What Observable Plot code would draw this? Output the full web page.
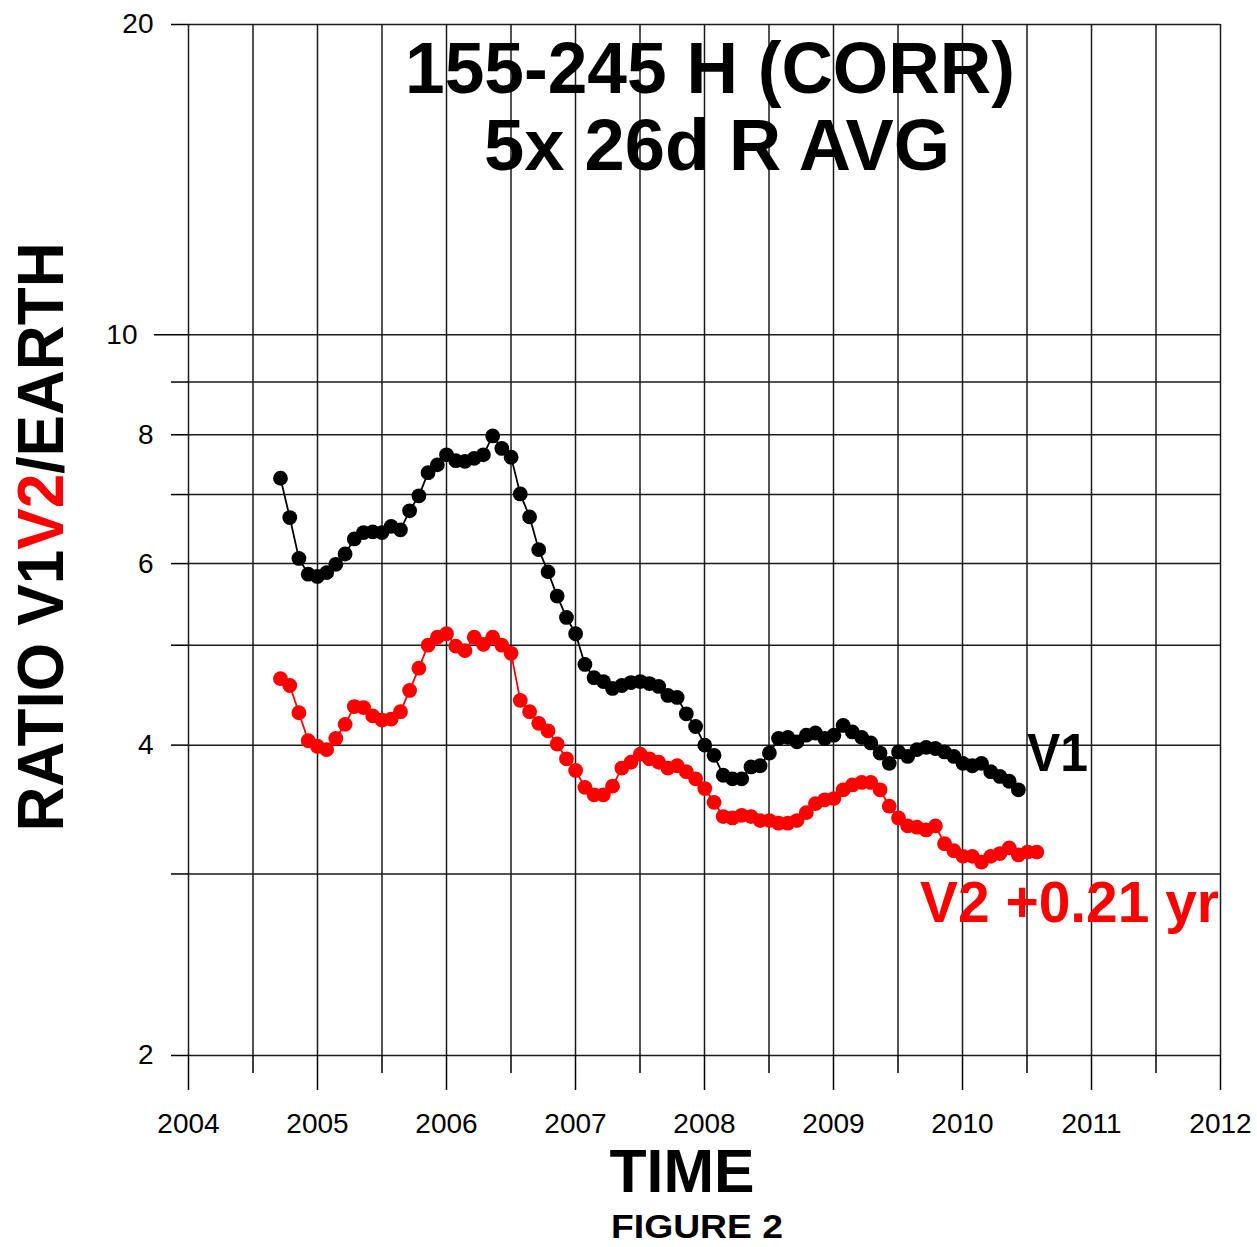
<!DOCTYPE html>
<html><head><meta charset="utf-8">
<script src="https://cdn.jsdelivr.net/npm/d3@7"></script>
<script src="https://cdn.jsdelivr.net/npm/@observablehq/plot@0.6"></script>
<style>body{margin:0;background:#fff} svg{display:block}</style>
</head><body><div id="chart"></div>
<script>
// 26-day sample times (decimal years)
const dates = [2004.713,2004.785,2004.856,2004.928,2004.999,2005.071,2005.142,2005.214,2005.285,2005.357,
2005.428,2005.500,2005.571,2005.643,2005.714,2005.786,2005.857,2005.929,2006.000,2006.072,
2006.143,2006.215,2006.286,2006.358,2006.429,2006.501,2006.572,2006.644,2006.715,2006.787,
2006.858,2006.930,2007.001,2007.073,2007.144,2007.216,2007.287,2007.359,2007.430,2007.502,
2007.573,2007.645,2007.716,2007.788,2007.859,2007.931,2008.002,2008.074,2008.145,2008.217,
2008.288,2008.360,2008.431,2008.503,2008.574,2008.646,2008.717,2008.789,2008.860,2008.932,
2009.003,2009.075,2009.146,2009.218,2009.289,2009.361,2009.432,2009.504,2009.575,2009.647,
2009.718,2009.790,2009.861,2009.933,2010.004,2010.076,2010.147,2010.219,2010.290,2010.362,
2010.433,2010.505,2010.576];

// V1 ratio values
const v1 = [7.26,6.65,6.07,5.86,5.83,5.88,5.99,6.13,6.34,6.43,
6.44,6.43,6.52,6.47,6.75,6.98,7.35,7.48,7.65,7.55,
7.54,7.59,7.65,7.98,7.76,7.61,7.01,6.66,6.19,5.89,
5.58,5.32,5.13,4.79,4.65,4.61,4.54,4.57,4.60,4.61,
4.59,4.56,4.47,4.45,4.29,4.17,4.00,3.91,3.74,3.71,
3.71,3.81,3.82,3.93,4.06,4.07,4.03,4.09,4.11,4.06,
4.09,4.18,4.12,4.07,4.02,3.93,3.84,3.94,3.90,3.96,
3.98,3.97,3.94,3.90,3.84,3.82,3.84,3.77,3.73,3.69,
3.62];

// V2 ratio values (shifted +0.21 yr)
const v2 = [4.64,4.57,4.30,4.04,3.99,3.96,4.06,4.19,4.36,4.35,
4.27,4.23,4.24,4.31,4.52,4.75,5.00,5.09,5.13,4.99,
4.94,5.09,5.01,5.09,5.00,4.91,4.42,4.31,4.20,4.13,
4.01,3.88,3.78,3.64,3.58,3.58,3.65,3.80,3.85,3.92,
3.88,3.85,3.80,3.82,3.77,3.71,3.63,3.52,3.41,3.40,
3.42,3.41,3.38,3.38,3.36,3.36,3.38,3.44,3.51,3.54,
3.55,3.62,3.66,3.68,3.68,3.62,3.49,3.40,3.34,3.33,
3.31,3.34,3.21,3.16,3.12,3.12,3.08,3.12,3.14,3.18,
3.13,3.15,3.15];

const xYears = [2004,2005,2006,2007,2008,2009,2010,2011,2012];
const xHalf = [2004.5,2005.5,2006.5,2007.5,2008.5,2009.5,2010.5,2011.5];
const yGrid = [2,3,4,5,6,7,8,9,10,20];
const yLabeled = [2,4,6,8,10,20];

const v1Data = v1.map((v, i) => ({t: dates[i], v}));
const v2Data = v2.map((v, i) => ({t: dates[i], v}));

const font = "'Liberation Sans', Arial, Helvetica, sans-serif";
const gridStyle = {stroke: "#1a1a1a", strokeOpacity: 1, strokeWidth: 1.5};

const chart = Plot.plot({
  width: 1257, height: 1247,
  marginLeft: 188, marginRight: 37, marginTop: 24, marginBottom: 192,
  style: {fontFamily: font, background: "#fff", color: "#000", overflow: "visible"},
  x: {type: "linear", domain: [2004, 2012], label: null},
  y: {type: "log", domain: [2, 20], label: null},
  marks: [
    Plot.gridX([...xYears, ...xHalf], gridStyle),
    Plot.gridY(yGrid, gridStyle),
    Plot.axisX(xYears, {tickSize: 35, tickPadding: 23, fontSize: 28, strokeWidth: 1.5, tickFormat: d => String(d), label: null}),
    Plot.axisX(xHalf, {tickSize: 18, strokeWidth: 1.5, tickFormat: () => "", label: null}),
    Plot.axisY(yGrid.filter(d => d !== 10), {tickSize: 17, tickPadding: 18, fontSize: 28, strokeWidth: 1.5,
      tickFormat: d => yLabeled.includes(d) ? String(d) : "", label: null}),
    Plot.axisY([10], {tickSize: 34, tickPadding: 17, fontSize: 28, strokeWidth: 1.5, tickFormat: d => String(d), label: null}),
    Plot.line(v1Data, {x: "t", y: "v", stroke: "#000", strokeWidth: 1.8}),
    Plot.dot(v1Data, {x: "t", y: "v", r: 7.4, fill: "#000"}),
    Plot.line(v2Data, {x: "t", y: "v", stroke: "#ff0000", strokeWidth: 1.8}),
    Plot.dot(v2Data, {x: "t", y: "v", r: 7.4, fill: "#ff0000"})
  ]
});

document.getElementById("chart").appendChild(chart);

const svg = d3.select(chart);
const g = svg.append("g").attr("font-family", font).attr("font-weight", "bold");

function addText(x, y, txt, size, fill, anchor, len) {
  const t = g.append("text").attr("x", x).attr("y", y).attr("font-size", size)
    .attr("fill", fill).attr("text-anchor", anchor).text(txt);
  if (len) t.attr("textLength", len).attr("lengthAdjust", "spacingAndGlyphs");
  return t;
}

addText(710, 93, "155-245 H (CORR)", 72, "#000", "middle", 610);
addText(717, 170, "5x 26d R AVG", 72, "#000", "middle", 466);
addText(1027, 771, "V1", 54, "#000", "start", 61);
addText(920, 922, "V2 +0.21 yr", 57, "#ff0000", "start", 299);
addText(682, 1192, "TIME", 61, "#000", "middle", 145);
addText(697, 1238, "FIGURE 2", 33, "#000", "middle", 172);

const yl = g.append("text")
  .attr("transform", "translate(63,537) rotate(-90)")
  .attr("text-anchor", "middle").attr("font-size", 64)
  .attr("textLength", 589).attr("lengthAdjust", "spacingAndGlyphs");
yl.append("tspan").attr("fill", "#000").text("RATIO V1");
yl.append("tspan").attr("fill", "#ff0000").text("V2");
yl.append("tspan").attr("fill", "#000").text("/EARTH");
</script>
</body></html>
